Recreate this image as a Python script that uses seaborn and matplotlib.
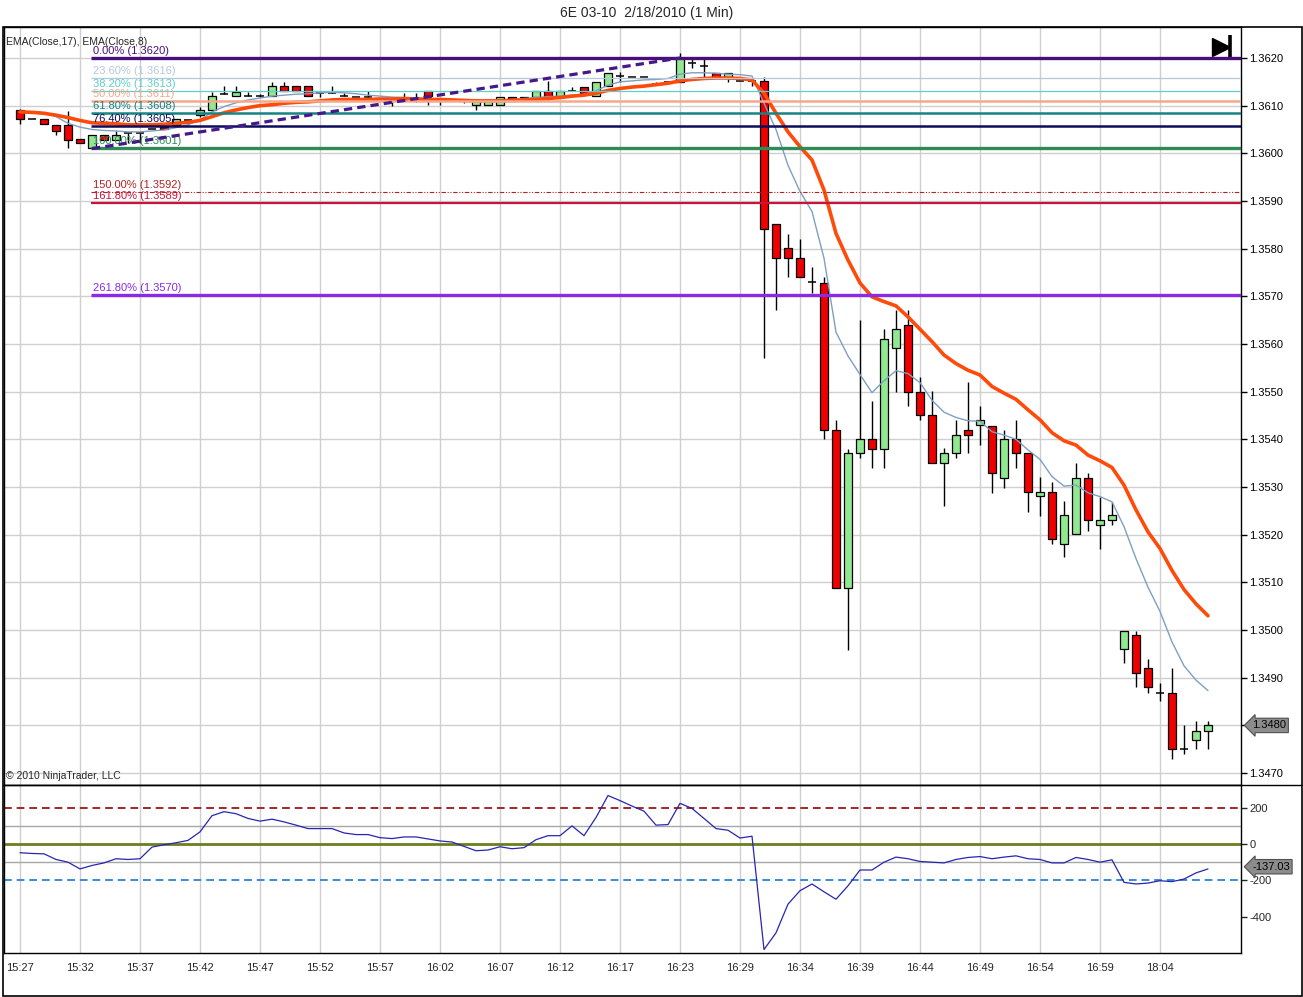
import numpy as np
import pandas as pd
import matplotlib
matplotlib.use("Agg")
import matplotlib.pyplot as plt
import seaborn as sns
from matplotlib.patches import Rectangle
from matplotlib.lines import Line2D

# ---- data ----
title = "6E 03-10  2/18/2010 (1 Min)"
time_labels = ["15:27", "15:32", "15:37", "15:42", "15:47", "15:52", "15:57", "16:02", "16:07", "16:12",
               "16:17", "16:23", "16:29", "16:34", "16:39", "16:44", "16:49", "16:54", "16:59", "18:04"]

opens = [
    1.36090, 1.36071, 1.36071, 1.36060, 1.36060, 1.36030, 1.36011, 1.36038, 1.36028, 1.36042,
    1.36042, 1.36051, 1.36056, 1.36060, 1.36070, 1.36080, 1.36090, 1.36124, 1.36120, 1.36120,
    1.36120, 1.36120, 1.36141, 1.36141, 1.36141, 1.36126, 1.36127, 1.36120, 1.36119, 1.36119,
    1.36113, 1.36112, 1.36112, 1.36117, 1.36130, 1.36112, 1.36112, 1.36112, 1.36101, 1.36101,
    1.36101, 1.36119, 1.36119, 1.36119, 1.36130, 1.36119, 1.36130, 1.36140, 1.36120, 1.36141,
    1.36162, 1.36161, 1.36161, 1.36146, 1.36150, 1.36150, 1.36190, 1.36183, 1.36169, 1.36160,
    1.36152, 1.36152, 1.36152, 1.35852, 1.35801, 1.35780, 1.35731, 1.35729, 1.35419, 1.35089,
    1.35371, 1.35400, 1.35379, 1.35591, 1.35639, 1.35500, 1.35451, 1.35350, 1.35371, 1.35419,
    1.35430, 1.35429, 1.35320, 1.35400, 1.35371, 1.35281, 1.35289, 1.35180, 1.35202, 1.35320,
    1.35220, 1.35231, 1.34960, 1.34990, 1.34920, 1.34869, 1.34869, 1.34750, 1.34770, 1.34789]

highs = [
    1.36093, 1.36071, 1.36071, 1.36060, 1.36089, 1.36030, 1.36038, 1.36038, 1.36047, 1.36042,
    1.36042, 1.36051, 1.36056, 1.36071, 1.36070, 1.36098, 1.36129, 1.36141, 1.36141, 1.36129,
    1.36125, 1.36150, 1.36150, 1.36141, 1.36141, 1.36126, 1.36141, 1.36127, 1.36119, 1.36130,
    1.36113, 1.36112, 1.36127, 1.36127, 1.36130, 1.36112, 1.36112, 1.36112, 1.36112, 1.36112,
    1.36119, 1.36119, 1.36119, 1.36130, 1.36152, 1.36130, 1.36140, 1.36140, 1.36150, 1.36169,
    1.36171, 1.36161, 1.36161, 1.36150, 1.36150, 1.36210, 1.36200, 1.36203, 1.36169, 1.36169,
    1.36152, 1.36152, 1.36161, 1.35852, 1.35831, 1.35820, 1.35761, 1.35740, 1.35441, 1.35379,
    1.35650, 1.35480, 1.35631, 1.35671, 1.35671, 1.35530, 1.35502, 1.35381, 1.35441, 1.35520,
    1.35470, 1.35429, 1.35420, 1.35441, 1.35371, 1.35322, 1.35310, 1.35271, 1.35350, 1.35330,
    1.35280, 1.35269, 1.34999, 1.34999, 1.34939, 1.34890, 1.34920, 1.34801, 1.34809, 1.34809]

lows = [
    1.36062, 1.36071, 1.36062, 1.36038, 1.36011, 1.36021, 1.36010, 1.36028, 1.36028, 1.36021,
    1.36021, 1.36051, 1.36051, 1.36060, 1.36060, 1.36077, 1.36090, 1.36124, 1.36120, 1.36120,
    1.36118, 1.36120, 1.36131, 1.36131, 1.36120, 1.36119, 1.36127, 1.36120, 1.36119, 1.36119,
    1.36113, 1.36099, 1.36112, 1.36108, 1.36101, 1.36101, 1.36112, 1.36106, 1.36090, 1.36101,
    1.36101, 1.36112, 1.36113, 1.36119, 1.36112, 1.36119, 1.36130, 1.36126, 1.36120, 1.36141,
    1.36150, 1.36161, 1.36161, 1.36146, 1.36150, 1.36150, 1.36180, 1.36161, 1.36160, 1.36150,
    1.36152, 1.36141, 1.35570, 1.35671, 1.35740, 1.35740, 1.35706, 1.35400, 1.35089, 1.34959,
    1.35360, 1.35339, 1.35339, 1.35500, 1.35469, 1.35441, 1.35350, 1.35260, 1.35360, 1.35371,
    1.35388, 1.35288, 1.35299, 1.35339, 1.35248, 1.35240, 1.35181, 1.35153, 1.35202, 1.35208,
    1.35170, 1.35220, 1.34930, 1.34880, 1.34869, 1.34852, 1.34729, 1.34740, 1.34750, 1.34750]

closes = [
    1.36071, 1.36071, 1.36062, 1.36046, 1.36028, 1.36021, 1.36038, 1.36028, 1.36038, 1.36042,
    1.36042, 1.36051, 1.36051, 1.36071, 1.36070, 1.36090, 1.36120, 1.36124, 1.36129, 1.36120,
    1.36120, 1.36141, 1.36131, 1.36131, 1.36120, 1.36126, 1.36127, 1.36120, 1.36119, 1.36119,
    1.36113, 1.36112, 1.36112, 1.36117, 1.36120, 1.36112, 1.36112, 1.36112, 1.36112, 1.36112,
    1.36119, 1.36112, 1.36113, 1.36130, 1.36119, 1.36130, 1.36130, 1.36126, 1.36150, 1.36169,
    1.36162, 1.36161, 1.36161, 1.36146, 1.36150, 1.36200, 1.36190, 1.36183, 1.36160, 1.36169,
    1.36152, 1.36152, 1.35841, 1.35780, 1.35780, 1.35740, 1.35731, 1.35419, 1.35089, 1.35371,
    1.35400, 1.35379, 1.35610, 1.35631, 1.35500, 1.35451, 1.35350, 1.35371, 1.35410, 1.35410,
    1.35440, 1.35330, 1.35400, 1.35371, 1.35289, 1.35289, 1.35190, 1.35241, 1.35320, 1.35231,
    1.35231, 1.35241, 1.34999, 1.34909, 1.34880, 1.34869, 1.34750, 1.34750, 1.34789, 1.34800]

ema17 = [
    1.36087, 1.36086, 1.36084, 1.36080, 1.36075, 1.36069, 1.36064, 1.36063, 1.36062, 1.36060,
    1.36060, 1.36060, 1.36061, 1.36063, 1.36065, 1.36069, 1.36077, 1.36085, 1.36091, 1.36096,
    1.36100, 1.36102, 1.36105, 1.36107, 1.36108, 1.36110, 1.36112, 1.36113, 1.36113, 1.36113,
    1.36114, 1.36114, 1.36115, 1.36114, 1.36113, 1.36113, 1.36112, 1.36111, 1.36110, 1.36110,
    1.36110, 1.36111, 1.36112, 1.36113, 1.36115, 1.36117, 1.36120, 1.36122, 1.36126, 1.36132,
    1.36136, 1.36139, 1.36141, 1.36144, 1.36147, 1.36152, 1.36155, 1.36157, 1.36158, 1.36158,
    1.36157, 1.36154, 1.36126, 1.36084, 1.36045, 1.36014, 1.35986, 1.35923, 1.35832, 1.35776,
    1.35728, 1.35699, 1.35689, 1.35680, 1.35657, 1.35631, 1.35605, 1.35577, 1.35559, 1.35545,
    1.35535, 1.35511, 1.35497, 1.35484, 1.35462, 1.35441, 1.35414, 1.35397, 1.35388, 1.35367,
    1.35355, 1.35341, 1.35304, 1.35252, 1.35206, 1.35171, 1.35125, 1.35085, 1.35055, 1.35030]

ema8 = [
    1.36087, 1.36085, 1.36084, 1.36077, 1.36063, 1.36055, 1.36050, 1.36048, 1.36047, 1.36045,
    1.36045, 1.36047, 1.36049, 1.36054, 1.36060, 1.36070, 1.36087, 1.36098, 1.36106, 1.36112,
    1.36116, 1.36120, 1.36122, 1.36124, 1.36125, 1.36127, 1.36128, 1.36127, 1.36125, 1.36122,
    1.36120, 1.36118, 1.36117, 1.36116, 1.36115, 1.36113, 1.36112, 1.36111, 1.36111, 1.36111,
    1.36112, 1.36113, 1.36115, 1.36117, 1.36119, 1.36120, 1.36122, 1.36124, 1.36131, 1.36143,
    1.36150, 1.36152, 1.36154, 1.36155, 1.36157, 1.36166, 1.36169, 1.36169, 1.36168, 1.36166,
    1.36165, 1.36162, 1.36105, 1.36050, 1.35975, 1.35920, 1.35878, 1.35780, 1.35625, 1.35575,
    1.35536, 1.35498, 1.35523, 1.35544, 1.35538, 1.35519, 1.35482, 1.35457, 1.35446, 1.35439,
    1.35438, 1.35416, 1.35409, 1.35400, 1.35378, 1.35358, 1.35322, 1.35302, 1.35304, 1.35288,
    1.35280, 1.35269, 1.35217, 1.35150, 1.35090, 1.35039, 1.34975, 1.34925, 1.34895, 1.34873]

cci = [
    -48, -52, -54, -85, -100, -137, -118, -104, -81, -85,
    -81, -17, -4, 7, 20, 67, 156, 178, 167, 141,
    126, 137, 122, 104, 85, 85, 85, 61, 52, 52,
    35, 30, 39, 39, 28, 17, 11, -13, -37, -33,
    -15, -26, -20, 24, 46, 46, 100, 46, 146, 267,
    239, 209, 181, 104, 107, 224, 196, 141, 85, 76,
    33, 43, -581, -489, -331, -257, -220, -263, -304, -230,
    -143, -143, -100, -72, -81, -96, -100, -104, -85, -74,
    -69, -81, -72, -65, -81, -85, -104, -104, -74, -85,
    -100, -87, -211, -220, -215, -202, -207, -193, -159, -137.03]

fib_labels = ["0.00% (1.3620)", "23.60% (1.3616)", "38.20% (1.3613)", "50.00% (1.3611)",
              "61.80% (1.3608)", "76.40% (1.3605)", "100.00% (1.3601)", "150.00% (1.3592)",
              "161.80% (1.3589)", "261.80% (1.3570)"]
fib_prices = [1.36200, 1.36158, 1.36131, 1.36110, 1.36085, 1.36057, 1.36011, 1.35919, 1.35896, 1.35703]
fib_colors = ["#4A0E78", "#B4C8DC", "#5CCFCA", "#F5A98A", "#168484", "#0C0C5C",
              "#2E8B57", "#B22222", "#C8143C", "#8A2BE2"]
fib_widths = [2.4, 0.9, 0.9, 1.8, 1.8, 1.8, 2.4, 0.8, 1.6, 2.4]
fib_start = 6

trend_x = [6, 55]
trend_y = [1.36010, 1.36200]

cci_levels = [200, 100, 0, -100, -200]

# ---- styling ----
sns.set_style("white")
plt.rcParams["font.family"] = ["Liberation Sans", "DejaVu Sans"]

W, H = 1303, 997
fig = plt.figure(figsize=(W / 100, H / 100), dpi=100)
fig.patch.set_facecolor("white")

ax = fig.add_axes([4 / W, 1 - 785 / H, 1237 / W, 758 / H])
ax2 = fig.add_axes([4 / W, 1 - 953 / H, 1237 / W, 168 / H], sharex=ax)

idx = np.arange(len(opens))
df = pd.DataFrame({"i": idx, "open": opens, "high": highs, "low": lows, "close": closes,
                   "ema17": ema17, "ema8": ema8, "cci": cci})

grid_c = "#CFCFCF"
xt = np.arange(0, len(opens), 5)
for a in (ax, ax2):
    for x in xt:
        a.axvline(x, color=grid_c, lw=1, zorder=0)

price_ticks = np.round(np.arange(1.3470, 1.36205, 0.0010), 4)
for p in price_ticks:
    ax.axhline(p, color=grid_c, lw=1, zorder=0)

# ---- candles ----
body_w = 0.62
ax.vlines(df["i"], df["low"], df["high"], color="black", lw=1, zorder=2)
for _, r in df.iterrows():
    o, c = r["open"], r["close"]
    if abs(c - o) < 0.00003:
        ax.hlines(o, r["i"] - body_w / 2, r["i"] + body_w / 2, color="black", lw=1.1, zorder=3)
    else:
        col = "#90E890" if c > o else "#EE0000"
        ax.bar(r["i"], abs(c - o), bottom=min(o, c), width=body_w, color=col,
               edgecolor="black", linewidth=0.9, zorder=3)

# ---- EMA lines ----
sns.lineplot(data=df, x="i", y="ema8", ax=ax, color="#7F9FC2", lw=1.0, zorder=4)
sns.lineplot(data=df, x="i", y="ema17", ax=ax, color="#FF4A0A", lw=2.6, zorder=4)

# ---- fibonacci levels ----
for lab, p, col, lw in zip(fib_labels, fib_prices, fib_colors, fib_widths):
    ls = (0, (4, 1.5, 1, 1.5, 1, 1.5)) if lab.startswith("150") else "-"
    ax.hlines(p, fib_start - 0.1, len(opens) + 3, color=col, lw=lw, linestyles=ls, zorder=5)
    ax.annotate(lab, (fib_start + 0.05, p), xytext=(0, 1.5), textcoords="offset points",
                ha="left", va="bottom", fontsize=8, color=col, zorder=6)

ax.plot(trend_x, trend_y, color="#45198A", lw=2.3, dashes=(2.6, 1.6), zorder=6)

last_price = round(closes[-1], 4)
ax.set_xlim(-16 / 12, 1221 / 12)
ax.set_ylim(1.34675, 1.36265)
ax.set_yticks(price_ticks)
# the last-price box sits on top of its own tick label
ax.set_yticklabels(["" if abs(p - last_price) < 1e-6 else f"{p:.4f}" for p in price_ticks])
ax.yaxis.tick_right()
ax.tick_params(axis="y", direction="out", length=4, width=1, labelsize=8, pad=2, colors="black")
ax.tick_params(axis="x", length=0, labelbottom=False)
ax.set_xlabel("")
ax.set_ylabel("")

ax.text(0.002, 0.987, "EMA(Close,17), EMA(Close,8)", transform=ax.transAxes,
        fontsize=7.5, va="top", ha="left")
ax.text(0.002, 0.005, "\u00a9 2010 NinjaTrader, LLC", transform=ax.transAxes,
        fontsize=7.5, va="bottom", ha="left")

# go-to-end icon
ax.plot([0.9835], [0.9736], marker=">", ms=13, color="black", transform=ax.transAxes, clip_on=False)
ax.plot([0.9915], [0.9736], marker="|", ms=17, mew=2.6, color="black", transform=ax.transAxes, clip_on=False)

# last price marker
ax.text(1.009, last_price, f"{last_price:.4f}", transform=ax.get_yaxis_transform(),
        fontsize=8, va="center", ha="left", color="black",
        bbox=dict(boxstyle="larrow,pad=0.2", fc="#8C8C8C", ec="#505050", lw=0.8), zorder=10)

# ---- CCI panel ----
ax2.axhline(cci_levels[1], color="#A8A8A8", lw=1, zorder=1)
ax2.axhline(cci_levels[3], color="#A8A8A8", lw=1, zorder=1)
ax2.axhline(cci_levels[0], color="#A0282A", lw=1.4, ls=(0, (4, 2.5)), zorder=2)
ax2.axhline(cci_levels[2], color="#6B7F1E", lw=2, zorder=2)
ax2.axhline(cci_levels[4], color="#3A8BD8", lw=1.4, ls=(0, (4, 2.5)), zorder=2)
sns.lineplot(data=df, x="i", y="cci", ax=ax2, color="#2626B0", lw=0.9, zorder=3)

ax2.set_ylim(-600, 325)
ax2.set_yticks([200, 0, -200, -400])
ax2.set_yticklabels(["200", "0", "-200", "-400"])
ax2.yaxis.tick_right()
ax2.tick_params(axis="y", direction="out", length=4, width=1, labelsize=8, pad=2)
ax2.set_xticks(xt)
ax2.set_xticklabels(time_labels)
ax2.tick_params(axis="x", direction="out", length=4, width=1, labelsize=8, pad=3)
ax2.set_xlabel("")
ax2.set_ylabel("")

ax2.text(1.009, cci[-1] + 12, f"{cci[-1]:.2f}", transform=ax2.get_yaxis_transform(),
         fontsize=8, va="center", ha="left", color="black",
         bbox=dict(boxstyle="larrow,pad=0.2", fc="#8C8C8C", ec="#505050", lw=0.8), zorder=10)

for a in (ax, ax2):
    for s in a.spines.values():
        s.set_color("black")
        s.set_linewidth(1)

# outer frame and panel separator
fig.patches.append(Rectangle((3 / W, 1 - 996 / H), 1299 / W, 969 / H, transform=fig.transFigure,
                             fill=False, ec="black", lw=1.2))
fig.lines.append(Line2D([3 / W, 1302 / W], [1 - 785 / H, 1 - 785 / H], transform=fig.transFigure,
                        color="black", lw=1))

fig.text(647 / W, 1 - 13 / H, title, ha="center", va="center", fontsize=10)

fig.savefig("out.png", dpi=100)
